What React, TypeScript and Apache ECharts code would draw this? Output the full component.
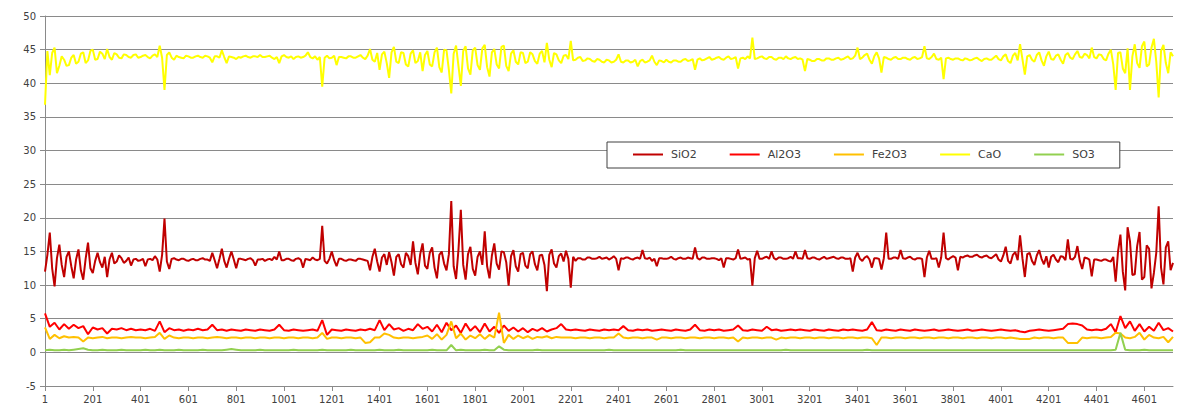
import React, { useEffect, useRef } from "react";
import * as echarts from "echarts";

// SiO2 and CaO are read every 10th record (1, 11, 21, ... 4721);
// Al2O3, Fe2O3 and SO3 every 20th record (1, 21, 41, ... 4721).
const FINE_STEP = 10;
const COARSE_STEP = 20;
const LAST_RECORD = 4721;
const RECORD_TICK = 200;

const sio2 = [
  12.0, 14.5, 17.8, 12.5, 9.8, 14.0, 16.0, 13.0, 11.2, 14.2, 15.0, 12.8, 11.0, 13.8, 15.3, 12.2, 10.8, 13.9, 16.3, 12.5,
  11.8, 13.6, 14.8, 13.4, 12.6, 14.2, 11.2, 13.8, 14.8, 13.2, 13.5, 14.4, 14.0, 13.3, 13.6, 14.1, 12.9, 13.8, 13.9, 13.6,
  13.7, 13.9, 12.8, 13.8, 13.9, 13.7, 14.3, 13.8, 12.0, 14.5, 19.9, 13.5, 12.4, 13.9, 14.0, 13.8, 13.7, 13.9, 13.9, 13.7,
  13.6, 13.8, 13.9, 13.7, 13.7, 13.9, 14.0, 13.8, 13.8, 13.6, 14.8, 13.7, 12.5, 13.9, 15.4, 13.6, 12.6, 13.9, 15.0, 13.8,
  12.5, 13.9, 13.9, 13.8, 13.7, 13.9, 14.0, 13.7, 12.9, 13.8, 13.8, 13.9, 13.6, 13.8, 13.9, 13.7, 14.2, 13.8, 15.0, 13.7,
  13.7, 13.9, 13.9, 13.7, 13.6, 13.9, 14.0, 13.8, 12.6, 13.9, 13.8, 13.7, 14.1, 13.8, 13.7, 13.9, 18.8, 13.6, 13.2, 13.9,
  15.0, 13.7, 12.8, 13.9, 13.9, 13.7, 13.6, 13.8, 13.8, 13.7, 13.6, 13.9, 13.9, 13.8, 13.7, 13.6, 12.2, 14.2, 15.4, 13.5,
  12.0, 14.1, 14.6, 13.0, 14.9, 13.4, 11.4, 14.2, 14.6, 13.1, 12.6, 14.8, 14.3, 13.0, 16.5, 13.3, 11.6, 14.6, 16.2, 12.9,
  12.4, 14.8, 15.6, 12.6, 11.0, 14.5, 15.0, 13.2, 12.2, 14.6, 22.5, 12.8, 10.9, 15.2, 21.2, 13.0, 10.8, 14.6, 15.7, 12.4,
  11.4, 14.2, 15.0, 13.0, 18.0, 12.8, 11.0, 14.4, 16.2, 13.2, 12.3, 15.0, 14.9, 13.4, 9.9, 14.3, 15.2, 12.8, 12.0, 14.6,
  14.8, 12.9, 12.5, 14.6, 15.0, 13.1, 12.2, 14.4, 14.5, 13.0, 9.1, 14.5, 15.3, 13.2, 12.6, 14.3, 14.7, 13.5, 15.1, 13.9,
  9.6, 14.2, 13.6, 14.0, 14.0, 13.8, 13.8, 14.1, 14.1, 13.9, 13.9, 14.0, 14.2, 13.9, 14.0, 14.1, 13.8, 14.0, 14.3, 13.9,
  12.2, 14.0, 13.9, 14.1, 14.1, 13.9, 13.8, 14.0, 14.1, 13.9, 15.2, 14.0, 13.9, 14.1, 13.6, 13.9, 12.8, 14.0, 14.0, 13.9,
  13.9, 14.0, 14.2, 13.9, 13.8, 14.0, 14.1, 13.9, 13.9, 14.1, 14.0, 13.9, 15.6, 14.0, 13.8, 14.1, 14.1, 13.9, 13.9, 14.0,
  14.0, 13.9, 13.7, 14.0, 12.6, 14.0, 14.0, 13.9, 13.8, 14.0, 15.3, 13.9, 14.0, 14.1, 13.8, 13.9, 9.9, 14.0, 15.1, 13.9,
  13.9, 14.1, 14.2, 13.9, 15.0, 14.0, 13.8, 14.1, 14.1, 13.9, 13.9, 14.0, 14.2, 13.9, 15.0, 14.0, 14.0, 13.9, 15.2, 14.0,
  13.9, 14.1, 14.1, 13.9, 13.8, 14.0, 14.2, 13.9, 14.0, 14.1, 14.2, 14.0, 13.9, 14.1, 14.1, 13.9, 13.9, 14.0, 12.0, 14.1,
  14.8, 13.9, 13.6, 14.1, 14.3, 13.8, 12.6, 14.0, 14.0, 13.9, 12.3, 14.0, 17.8, 13.9, 13.9, 14.1, 14.1, 13.9, 15.2, 14.0,
  13.9, 14.1, 14.2, 13.9, 13.8, 14.0, 14.0, 13.9, 11.2, 14.1, 15.1, 13.9, 13.9, 14.0, 12.6, 14.1, 17.8, 14.0, 13.8, 14.1,
  14.3, 14.1, 12.2, 14.2, 14.1, 14.3, 14.4, 14.2, 14.2, 14.4, 14.5, 14.2, 14.1, 14.3, 14.4, 14.1, 14.0, 14.3, 14.6, 13.8,
  13.5, 14.4, 15.7, 13.6, 13.2, 14.5, 14.9, 13.7, 17.4, 14.0, 11.2, 14.6, 14.8, 13.6, 13.0, 14.4, 15.2, 13.9, 13.1, 14.3,
  12.6, 14.2, 14.5, 13.8, 13.4, 14.3, 14.2, 13.7, 16.8, 13.9, 13.8, 14.2, 15.8, 13.6, 12.4, 14.1, 14.0, 13.8, 11.3, 13.8,
  13.8, 13.7, 13.6, 13.8, 13.8, 13.6, 13.5, 14.2, 10.5, 15.0, 17.5, 12.0, 9.2, 18.6, 16.5, 11.5, 11.6, 15.8, 17.9, 10.8,
  11.2, 15.9, 15.4, 9.5, 11.8, 14.8, 21.7, 12.6, 10.1, 15.6, 16.5, 12.2, 13.3,
];

const cao = [
  36.8, 44.8, 41.2, 44.5, 45.3, 41.5, 42.6, 44.0, 43.5, 42.6, 42.7, 43.8, 44.2, 42.9, 43.2, 44.4, 44.6, 43.0, 43.4, 44.8,
  45.0, 43.5, 43.6, 44.7, 44.4, 43.6, 45.1, 43.9, 43.5, 44.5, 44.3, 43.8, 43.7, 44.3, 44.2, 43.9, 43.8, 44.2, 44.3, 43.8,
  43.9, 44.1, 44.2, 43.9, 43.7, 44.1, 44.3, 43.9, 45.6, 43.8, 39.0, 44.2, 44.6, 43.8, 43.5, 44.1, 43.9, 43.8, 43.7, 44.1,
  44.0, 43.8, 43.8, 44.0, 44.1, 43.9, 43.8, 44.1, 44.0, 43.8, 43.1, 44.0, 44.0, 43.8, 44.9, 43.9, 43.0, 44.0, 43.9, 43.8,
  43.6, 43.9, 43.8, 44.0, 44.1, 43.9, 43.8, 44.0, 44.0, 43.9, 44.2, 43.9, 43.9, 44.0, 44.1, 43.8, 43.6, 43.9, 43.0, 44.0,
  44.2, 43.9, 43.8, 44.0, 43.6, 43.9, 44.0, 43.8, 43.9, 44.1, 44.6, 43.9, 43.7, 44.0, 43.5, 43.9, 39.5, 43.8, 44.1, 43.7,
  43.8, 44.1, 42.7, 43.9, 43.9, 43.8, 43.7, 44.0, 44.0, 43.8, 43.8, 44.0, 44.2, 43.8, 43.6, 44.1, 45.1, 43.5, 43.2, 44.5,
  42.0, 44.3, 44.7, 43.0, 40.8, 44.6, 45.4, 43.2, 43.0, 44.6, 44.5, 42.8, 42.5, 44.4, 44.9, 43.0, 43.3, 44.6, 41.8, 44.2,
  44.8, 42.8, 42.5, 44.6, 45.3, 42.4, 41.6, 45.0, 44.9, 42.0, 38.5, 44.4, 45.6, 42.6, 39.6, 44.8, 45.5, 42.2, 41.3, 44.9,
  45.3, 42.7, 42.0, 45.2, 45.7, 42.4, 41.0, 44.6, 45.1, 42.8, 42.2, 45.4, 45.6, 42.6, 41.8, 44.4, 44.9, 43.2, 42.8, 44.6,
  44.5, 43.0, 43.2, 44.6, 44.3, 43.3, 42.9, 44.4, 44.8, 43.1, 46.0, 43.5, 42.4, 44.5, 44.3, 43.4, 43.0, 44.1, 44.2, 43.6,
  46.3, 43.4, 43.5, 43.8, 43.9, 43.3, 43.4, 43.7, 43.6, 43.3, 43.2, 43.6, 43.5, 43.2, 43.1, 43.5, 43.4, 43.1, 43.2, 43.5,
  44.3, 43.2, 43.1, 43.4, 43.4, 43.1, 43.2, 43.5, 42.5, 43.3, 43.5, 43.1, 43.2, 43.4, 44.1, 43.2, 42.7, 43.4, 43.3, 43.1,
  43.5, 43.2, 43.1, 43.4, 43.4, 43.2, 43.2, 43.5, 43.6, 43.3, 43.4, 43.6, 42.0, 43.5, 43.7, 43.4, 43.5, 43.7, 43.9, 43.5,
  43.6, 43.8, 43.9, 43.6, 43.5, 43.8, 44.0, 43.6, 43.7, 43.9, 42.2, 43.7, 43.8, 43.6, 44.0, 43.7, 46.8, 43.6, 43.7, 43.9,
  44.0, 43.7, 43.6, 43.9, 43.9, 43.6, 43.5, 43.8, 43.8, 43.6, 44.0, 43.7, 43.6, 43.8, 43.9, 43.6, 43.7, 43.5, 41.8, 43.6,
  43.5, 43.3, 43.3, 43.6, 43.6, 43.4, 43.4, 43.7, 43.7, 43.5, 43.5, 43.7, 43.8, 43.5, 43.6, 43.8, 44.0, 43.6, 43.7, 44.1,
  45.3, 43.6, 43.8, 44.2, 44.4, 43.5, 42.9, 44.0, 44.6, 43.7, 41.6, 43.9, 43.8, 43.6, 43.5, 43.8, 43.9, 43.6, 43.6, 43.8,
  43.8, 43.6, 43.5, 43.8, 43.9, 43.6, 43.7, 43.9, 45.5, 43.7, 43.6, 43.9, 44.4, 43.6, 43.5, 43.8, 40.6, 43.7, 43.8, 43.6,
  43.5, 43.7, 43.7, 43.5, 43.4, 43.7, 43.6, 43.4, 43.5, 43.7, 43.8, 43.5, 43.3, 43.6, 43.7, 43.5, 43.5, 43.8, 44.1, 43.6,
  43.4, 44.0, 44.3, 43.3, 43.0, 44.1, 44.5, 43.4, 45.8, 43.6, 41.3, 44.0, 44.2, 43.5, 43.2, 44.2, 44.6, 43.4, 42.6, 44.0,
  44.7, 43.6, 43.5, 44.1, 44.3, 43.5, 42.9, 44.2, 44.5, 43.8, 43.6, 44.3, 44.8, 43.9, 43.8, 44.4, 44.2, 43.7, 45.3, 43.9,
  43.7, 44.3, 44.2, 43.6, 43.4, 44.4, 45.0, 42.8, 39.0, 44.5, 44.6, 42.2, 41.5, 45.2, 39.0, 44.0, 45.8, 43.0, 42.3, 45.5,
  46.2, 42.5, 42.8, 45.3, 46.6, 43.2, 37.9, 44.8, 45.7, 43.0, 41.5, 44.6, 44.0,
];

const al2o3 = [
  5.8, 3.8, 4.4, 3.4, 4.2, 3.5, 4.1, 3.6, 3.9, 2.7,
  3.7, 3.4, 3.6, 2.8, 3.5, 3.4, 3.6, 3.3, 3.5, 3.3,
  3.4, 3.3, 3.5, 3.2, 4.6, 3.0, 3.6, 3.3, 3.4, 3.2,
  3.4, 3.3, 3.5, 3.3, 3.4, 4.1, 3.3, 3.4, 3.2, 3.4,
  3.3, 3.2, 3.4, 3.3, 3.2, 3.4, 3.3, 3.2, 3.4, 4.1,
  3.3, 3.2, 3.4, 3.3, 3.2, 3.3, 3.4, 3.2, 4.8, 2.6,
  3.4, 3.3, 3.2, 3.4, 3.3, 3.2, 3.4, 3.3, 3.5, 3.3,
  4.8, 3.3, 4.2, 3.4, 3.6, 3.2, 3.5, 3.3, 4.2, 3.5,
  3.8, 3.1, 4.1, 3.0, 4.4, 3.3, 4.0, 2.9, 4.3, 3.2,
  3.9, 3.0, 4.3, 3.1, 3.8, 2.9, 4.0, 3.2, 3.7, 3.1,
  3.6, 3.0, 3.5, 3.2, 3.6, 3.1, 3.4, 3.6, 4.2, 3.4,
  3.3, 3.4, 3.3, 3.2, 3.4, 3.3, 3.2, 3.4, 3.3, 3.4,
  3.3, 3.9, 3.3, 3.2, 3.4, 3.3, 3.4, 3.2, 3.3, 3.4,
  3.3, 3.2, 3.4, 3.3, 3.2, 3.4, 4.1, 3.3, 3.2, 3.4,
  3.3, 3.4, 3.2, 3.3, 3.4, 4.0, 3.3, 3.2, 3.4, 3.3,
  3.2, 3.8, 3.3, 3.4, 3.2, 3.3, 3.4, 3.3, 3.4, 3.3,
  3.2, 3.4, 3.3, 3.2, 3.4, 3.3, 3.2, 3.4, 3.3, 3.4,
  3.3, 3.2, 3.4, 4.5, 3.3, 3.2, 3.4, 3.3, 3.2, 3.4,
  3.3, 3.2, 3.4, 3.3, 3.2, 3.3, 3.4, 3.2, 3.3, 3.4,
  3.3, 3.2, 3.3, 3.4, 3.2, 3.3, 3.4, 3.3, 3.2, 3.3,
  3.4, 3.3, 3.2, 3.3, 3.1, 3.0, 3.2, 3.3, 3.4, 3.3,
  3.2, 3.3, 3.4, 3.5, 4.2, 4.3, 4.2, 4.0, 3.4, 3.3,
  3.4, 3.3, 3.5, 4.2, 3.0, 5.4, 3.6, 4.6, 3.2, 4.2,
  3.1, 3.8, 3.2, 4.4, 3.3, 3.6, 3.1,
];

const fe2o3 = [
  3.7, 2.0, 2.6, 2.1, 2.4, 2.2, 2.3, 2.2, 1.6, 2.2,
  2.1, 2.2, 2.3, 2.1, 2.2, 2.2, 2.1, 2.2, 2.3, 2.2,
  2.2, 2.1, 2.2, 2.3, 2.9, 2.0, 2.5, 2.2, 2.1, 2.2,
  2.2, 2.1, 2.2, 2.2, 2.1, 2.2, 2.3, 2.2, 2.1, 2.2,
  2.2, 2.1, 2.2, 2.2, 2.1, 2.2, 2.2, 2.1, 2.2, 2.2,
  2.1, 2.2, 2.2, 2.1, 2.2, 2.2, 2.1, 2.2, 2.9, 2.0,
  2.2, 2.2, 2.1, 2.2, 2.2, 2.1, 2.2, 1.4, 1.5, 2.2,
  2.2, 2.8, 2.6, 2.2, 2.1, 2.2, 2.2, 2.1, 2.2, 2.3,
  2.5, 2.0, 2.7, 1.9, 2.6, 4.6, 2.1, 2.8, 1.9, 2.5,
  2.1, 2.7, 2.0, 2.6, 2.2, 5.9, 1.4, 2.6, 2.0, 2.5,
  2.1, 2.4, 2.0, 2.3, 2.2, 2.4, 2.1, 2.3, 2.2, 2.2,
  2.2, 2.1, 2.2, 2.2, 2.1, 2.2, 2.2, 2.1, 2.2, 2.2,
  2.8, 2.2, 2.1, 2.2, 2.2, 2.1, 2.2, 2.2, 1.9, 2.2,
  2.2, 2.1, 2.2, 2.2, 2.1, 2.2, 2.2, 2.1, 2.2, 2.2,
  2.1, 2.2, 2.2, 2.1, 2.2, 1.6, 2.2, 2.1, 2.2, 2.2,
  2.1, 2.2, 2.2, 1.9, 2.2, 2.1, 2.2, 2.2, 2.1, 2.2,
  2.2, 2.1, 2.2, 2.2, 2.1, 2.2, 2.2, 2.1, 2.2, 2.2,
  2.1, 2.2, 2.2, 2.1, 1.1, 2.2, 2.2, 2.1, 2.2, 2.2,
  2.1, 2.2, 2.2, 2.1, 2.2, 2.2, 2.1, 2.2, 2.2, 2.1,
  2.2, 2.2, 2.1, 2.2, 2.2, 2.1, 2.2, 2.2, 2.1, 2.2,
  2.2, 2.1, 2.2, 2.1, 2.0, 2.0, 2.0, 2.2, 2.1, 2.2,
  2.2, 2.1, 2.2, 2.2, 1.4, 1.4, 1.4, 2.2, 2.1, 2.2,
  2.2, 2.1, 2.2, 2.3, 2.9, 2.8, 2.2, 2.1, 2.3, 2.9,
  1.9, 2.6, 2.2, 2.1, 2.3, 1.5, 2.3,
];

const so3 = [
  0.3, 0.4, 0.3, 0.3, 0.4, 0.3, 0.4, 0.5, 0.6, 0.4,
  0.3, 0.3, 0.4, 0.3, 0.3, 0.3, 0.4, 0.3, 0.3, 0.3,
  0.3, 0.4, 0.3, 0.3, 0.4, 0.3, 0.3, 0.3, 0.4, 0.3,
  0.3, 0.3, 0.3, 0.4, 0.3, 0.3, 0.3, 0.3, 0.4, 0.5,
  0.4, 0.3, 0.3, 0.3, 0.3, 0.4, 0.3, 0.3, 0.3, 0.3,
  0.3, 0.3, 0.4, 0.3, 0.3, 0.3, 0.3, 0.3, 0.4, 0.3,
  0.3, 0.3, 0.3, 0.3, 0.4, 0.3, 0.3, 0.3, 0.3, 0.3,
  0.4, 0.3, 0.3, 0.3, 0.4, 0.3, 0.3, 0.3, 0.3, 0.3,
  0.3, 0.4, 0.3, 0.3, 0.3, 1.1, 0.3, 0.4, 0.3, 0.3,
  0.3, 0.3, 0.4, 0.3, 0.3, 0.9, 0.4, 0.3, 0.3, 0.3,
  0.3, 0.3, 0.3, 0.4, 0.3, 0.3, 0.3, 0.3, 0.3, 0.3,
  0.3, 0.3, 0.3, 0.3, 0.3, 0.3, 0.3, 0.3, 0.4, 0.3,
  0.3, 0.3, 0.3, 0.3, 0.3, 0.3, 0.3, 0.3, 0.3, 0.3,
  0.3, 0.3, 0.3, 0.4, 0.3, 0.3, 0.3, 0.3, 0.3, 0.3,
  0.3, 0.3, 0.3, 0.3, 0.3, 0.3, 0.3, 0.3, 0.3, 0.3,
  0.3, 0.3, 0.3, 0.3, 0.3, 0.4, 0.3, 0.3, 0.3, 0.3,
  0.3, 0.3, 0.3, 0.3, 0.3, 0.3, 0.3, 0.3, 0.3, 0.3,
  0.3, 0.3, 0.4, 0.3, 0.3, 0.3, 0.3, 0.3, 0.3, 0.3,
  0.3, 0.3, 0.3, 0.3, 0.3, 0.3, 0.3, 0.3, 0.3, 0.3,
  0.3, 0.3, 0.3, 0.3, 0.3, 0.3, 0.3, 0.3, 0.3, 0.3,
  0.3, 0.3, 0.3, 0.3, 0.3, 0.3, 0.3, 0.3, 0.3, 0.3,
  0.3, 0.3, 0.3, 0.3, 0.3, 0.3, 0.3, 0.3, 0.3, 0.3,
  0.3, 0.3, 0.3, 0.3, 0.4, 2.9, 0.4, 0.3, 0.3, 0.3,
  0.4, 0.3, 0.3, 0.3, 0.3, 0.3, 0.3,
];

const seriesNames = ["SiO2", "Al2O3", "Fe2O3", "CaO", "SO3"];
const seriesData = [sio2, al2o3, fe2o3, cao, so3];
const seriesSteps = [FINE_STEP, COARSE_STEP, COARSE_STEP, FINE_STEP, COARSE_STEP];
const seriesColors = ["#C00000", "#FF0000", "#FFC000", "#FFFF00", "#92D050"];

const FONT = "'DejaVu Sans', Verdana, sans-serif";
const GRID_COLOR = "#8a8a8a";

// x is (record number - 1) so that the axis starts at 0 with ticks every 200
const toPoints = (values: number[], step: number) =>
  values.map((v, i) => [i * step, v]);

export default function App() {
  const ref = useRef<HTMLDivElement>(null);

  useEffect(() => {
    if (!ref.current) return;
    const chart = echarts.init(ref.current, undefined, { renderer: "svg" });
    chart.setOption({
      animation: false,
      backgroundColor: "#ffffff",
      grid: { left: 45, right: 8, top: 16, bottom: 23, containLabel: false },
      legend: {
        data: seriesNames,
        left: 607,
        top: 142,
        orient: "horizontal",
        itemWidth: 30,
        itemHeight: 2,
        itemGap: 33,
        icon: "rect",
        padding: [6, 25, 7, 26],
        borderColor: "#404040",
        borderWidth: 1,
        backgroundColor: "#ffffff",
        textStyle: {
          fontFamily: FONT,
          fontSize: 11,
          color: "#404040",
          lineHeight: 13,
          padding: [0, 0, 0, 3],
        },
      },
      xAxis: {
        type: "value",
        min: 0,
        max: LAST_RECORD - 1,
        interval: RECORD_TICK,
        axisLine: { show: true, onZero: false, lineStyle: { color: GRID_COLOR, width: 1 } },
        axisTick: { show: true, length: 5, lineStyle: { color: GRID_COLOR } },
        axisLabel: {
          margin: 8,
          fontFamily: FONT,
          fontSize: 10,
          color: "#404040",
          showMaxLabel: false,
          formatter: (v: number) => String(v + 1),
        },
        splitLine: { show: false },
      },
      yAxis: {
        type: "value",
        min: -5,
        max: 50,
        interval: 5,
        axisLine: { show: true, lineStyle: { color: GRID_COLOR, width: 1 } },
        axisTick: { show: true, length: 5, lineStyle: { color: GRID_COLOR } },
        axisLabel: {
          margin: 9,
          fontFamily: FONT,
          fontSize: 10,
          color: "#404040",
        },
        splitLine: { show: true, lineStyle: { color: GRID_COLOR, width: 1 } },
      },
      series: seriesNames.map((name, i) => ({
        name,
        type: "line",
        data: toPoints(seriesData[i], seriesSteps[i]),
        showSymbol: false,
        symbol: "none",
        smooth: false,
        lineStyle: { color: seriesColors[i], width: 2 },
        itemStyle: { color: seriesColors[i] },
      })),
    });
    return () => chart.dispose();
  }, []);

  return (
    <div
      ref={ref}
      style={{ position: "absolute", left: 0, top: 0, width: 1181, height: 409, background: "#fff" }}
    />
  );
}
